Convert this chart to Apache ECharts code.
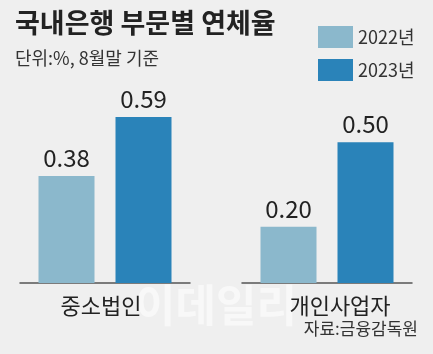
<!DOCTYPE html>
<html><head><meta charset="utf-8">
<script src="https://cdn.jsdelivr.net/npm/echarts@6/dist/echarts.min.js"></script>
<style>html,body{margin:0;padding:0;background:#efefef}#c{width:433px;height:354px}</style>
</head><body><div id="c"></div>
<script>
const categories = ['중소법인', '개인사업자'];
const seriesNames = ['2022년', '2023년'];
const values2022 = [0.38, 0.20];
const values2023 = [0.59, 0.50];
const titleText = '국내은행 부문별 연체율';
const subtitleText = '단위:%, 8월말 기준';
const sourceText = '자료:금융감독원';

const FONT = '"Noto Sans CJK KR", "Noto Sans", sans-serif';
const colors = ['#8bb8cc', '#2a83b9'];
const chart = echarts.init(document.getElementById('c'), null, {renderer: 'canvas'});

const grids = [
  {left: 20, width: 170, top: 86, bottom: 71},
  {left: 242, width: 170, top: 86, bottom: 71}
];
const labelPad = [[0, 8, 0, 0], [0, 0, 0, 26]];
const xAxes = categories.map((c, i) => ({
  type: 'category', gridIndex: i, data: [c],
  axisLine: {lineStyle: {color: '#555', width: 1.5}},
  axisTick: {show: false},
  axisLabel: {fontFamily: FONT, fontSize: 22, color: '#222', margin: 12, padding: labelPad[i]}
}));
const yAxes = categories.map((c, i) => ({
  type: 'value', gridIndex: i, min: 0, max: 0.7, show: false, splitLine: {show: false}
}));
const series = [];
categories.forEach((c, i) => {
  [values2022, values2023].forEach((vals, k) => {
    series.push({
      type: 'bar', name: seriesNames[k], xAxisIndex: i, yAxisIndex: i,
      data: [vals[i]], barWidth: 56, barGap: '37.5%',
      itemStyle: {color: colors[k]},
      label: {show: true, position: 'top', distance: 6, fontFamily: FONT, fontSize: 24,
        color: '#222', formatter: p => p.value.toFixed(2)}
    });
  });
});

chart.setOption({
  backgroundColor: '#efefef',
  animation: false,
  grid: grids,
  xAxis: xAxes,
  yAxis: yAxes,
  legend: {
    data: seriesNames, orient: 'vertical', left: 313, top: 21,
    itemWidth: 35, itemHeight: 22, itemGap: 11, icon: 'rect',
    textStyle: {fontFamily: FONT, fontSize: 18, color: '#333'}
  },
  series: series,
  graphic: [
    {type: 'text', left: 15, top: 9, style: {text: titleText, font: 'bold 27px ' + FONT, fill: '#222'}},
    {type: 'text', left: 15, top: 49, style: {text: subtitleText, font: '18px ' + FONT, fill: '#333'}},
    {type: 'text', left: 135, top: 283, z: -1, style: {text: '이데일리', font: 'bold 44px ' + FONT, fill: '#f8f8f8'}},
    {type: 'text', right: 15, top: 320, style: {text: sourceText, font: '17px ' + FONT, fill: '#333'}}
  ]
});
</script></body></html>
